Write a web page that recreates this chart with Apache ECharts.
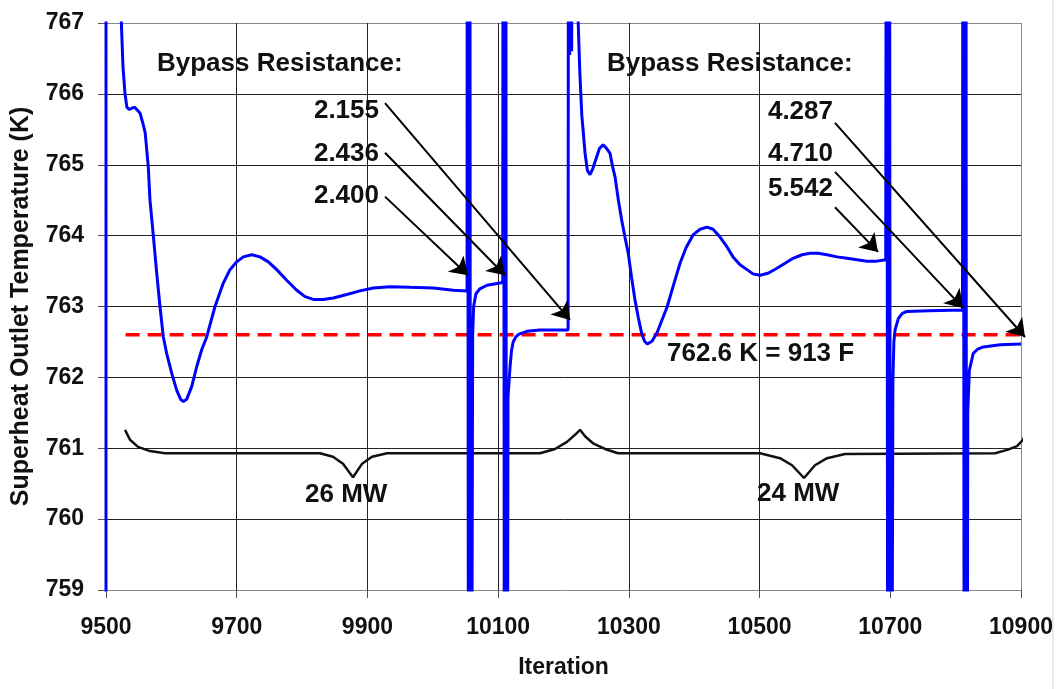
<!DOCTYPE html>
<html>
<head>
<meta charset="utf-8">
<title>Superheat Outlet Temperature</title>
<script src="https://cdn.jsdelivr.net/npm/echarts@6.0.0/dist/echarts.min.js"></script>
<style>
  html, body { margin: 0; padding: 0; background: #fff; }
  #chart { width: 1058px; height: 689px; }
</style>
</head>
<body>
<div id="chart"></div>
<script>
// blue trace, iteration vs temperature (K); values past 759/767 are the spikes that run off the plot
const iteration = [
  9500, 9500, 9522,
  9523.5, 9526, 9529, 9532, 9536, 9540, 9544, 9548, 9552, 9556, 9560, 9564.7, 9567.3, 9572.4,
  9577.4, 9582.6, 9587.7, 9592.8, 9600.5, 9608.1, 9614.2, 9618.3, 9623.4, 9631.1, 9638.8, 9646.4,
  9654.1, 9666.8, 9679.5, 9689.7, 9700, 9710.1, 9722.9, 9735.6, 9748.4, 9761.2, 9776.5, 9791.8,
  9804.5, 9817.2, 9832.5, 9847.8, 9868.3, 9888.6, 9909, 9934.6, 9965.1, 10000.8, 10031.4, 10052.4,
  10053, 10055, 10056.5, 10058,
  10061, 10062.5, 10066, 10072, 10083, 10107,
  10108, 10110, 10111.5, 10113,
  10115.1, 10118.2, 10120.5, 10123, 10127, 10132, 10144, 10164, 10207,
  10208, 10209.5, 10211, 10212.5, 10214, 10221,
  10222.5, 10225, 10228, 10232.9, 10236.5, 10240.6, 10245, 10250.7, 10255, 10260.5, 10265,
  10271.2, 10275, 10278.8, 10284, 10289, 10294, 10299.1, 10304, 10309.4, 10314.5, 10319.6,
  10324, 10328.2, 10335.4, 10343.1, 10350.7, 10358.4, 10367.6, 10378.3, 10387.5, 10398.2,
  10408.9, 10419.6, 10428.8, 10439.5, 10450.2, 10459.4, 10470.1, 10480.8, 10490, 10500.7,
  10513, 10526.7, 10539, 10551.2, 10565, 10577.2, 10589.4, 10603.2, 10618.5, 10633.8,
  10649.1, 10664.4, 10679.7, 10693,
  10694.5, 10696.5, 10698.5, 10700.5,
  10704, 10705.5, 10707.3, 10712.3, 10718, 10725.1, 10760, 10810.5,
  10811.5, 10813.5, 10815.5, 10817,
  10818.5, 10821, 10827, 10834, 10842.4, 10868, 10900
];
const temperature = [
  755, 775, 775,
  767.0, 766.38, 766.01, 765.81, 765.78, 765.80, 765.81, 765.77, 765.73, 765.60, 765.45, 764.97, 764.50, 764.0,
  763.49, 763.0, 762.57, 762.34, 762.06, 761.82, 761.69, 761.66, 761.69, 761.87, 762.15, 762.39,
  762.57, 763.0, 763.33, 763.52, 763.63, 763.70, 763.73, 763.70, 763.63, 763.52, 763.37, 763.23,
  763.14, 763.10, 763.10, 763.12, 763.17, 763.22, 763.26, 763.28, 763.27, 763.26, 763.23, 763.22,
  775, 750, 775, 750,
  762.6, 763.0, 763.18, 763.25, 763.30, 763.34,
  775, 750, 775, 750,
  761.72, 762.15, 762.38, 762.5, 762.57, 762.61, 762.65, 762.67, 762.67,
  775, 766.55, 775, 766.6, 775, 775,
  767.0, 766.3, 765.7, 765.17, 764.92, 764.86, 764.95, 765.11, 765.23, 765.28, 765.24,
  765.16, 764.98, 764.83, 764.5, 764.22, 763.98, 763.75, 763.42, 763.09, 762.84, 762.62,
  762.51, 762.47, 762.51, 762.63, 762.81, 762.99, 763.28, 763.61, 763.83, 764.01,
  764.09, 764.12, 764.09, 763.98, 763.84, 763.70, 763.59, 763.52, 763.46, 763.44,
  763.47, 763.54, 763.61, 763.68, 763.73, 763.75, 763.75, 763.73, 763.70, 763.68,
  763.66, 763.64, 763.64, 763.66,
  775, 750, 775, 750,
  761.96, 762.5, 762.67, 762.83, 762.9, 762.93, 762.94, 762.95,
  775, 750, 775, 750,
  761.5, 762.1, 762.34, 762.4, 762.43, 762.46, 762.47
];

// 762.6 K = 913 F target line
const targetTemp = 762.6;
const targetFrom = 9530;
const targetTo = 10900;

// braces under the two power levels
const braceX = [
  9529.1, 9536.7, 9549.0, 9567.3, 9590.3, 9827.4, 9847.3, 9862.6, 9877.9, 9891.7, 9907.0, 9930.0,
  10164.1, 10187.0, 10205.4, 10217.6, 10225.3, 10232.9, 10245.2, 10263.5, 10283.4,
  10500.7, 10531.3, 10549.7, 10568.0, 10584.8, 10603.2, 10630.7, 10860.3, 10880.2, 10893.9, 10903.1, 10909.2
];
const braceY = [
  761.26, 761.12, 761.02, 760.96, 760.93, 760.93, 760.88, 760.78, 760.59, 760.78, 760.88, 760.93,
  760.93, 760.99, 761.09, 761.19, 761.26, 761.17, 761.07, 760.99, 760.93,
  760.93, 760.86, 760.76, 760.58, 760.76, 760.86, 760.92, 760.93, 760.98, 761.03, 761.12, 761.26
];

// arrows: label corner -> point on the trace
const arrowFrom = [
  [9926.9, 765.87], [9926.9, 765.17], [9926.9, 764.55],
  [10615.4, 765.59], [10615.4, 764.90], [10615.4, 764.40]
];
const arrowTo = [
  [10210, 762.81], [10110.5, 763.44], [10053.9, 763.44],
  [10906.1, 762.57], [10811.3, 762.98], [10681.2, 763.77]
];

const xTicks = [9500, 9700, 9900, 10100, 10300, 10500, 10700, 10900];
const yMin = 759, yMax = 767;

const FONT = '"Liberation Sans", Arial, sans-serif';
const INK = '#111';

const chart = echarts.init(document.getElementById('chart'), null, {renderer: 'canvas'});

const zip = (xs, ys) => xs.map((x, i) => [x, ys[i]]);

const txt = (text, x, y, align) => ({
  type: 'text',
  x: x,
  y: y,
  z: 100,
  style: {
    text: text,
    fill: INK,
    font: 'bold 26px ' + FONT,
    align: align || 'left',
    verticalAlign: 'middle'
  }
});

const option = {
  animation: false,
  backgroundColor: '#fff',
  grid: {left: 106, right: 37, top: 23, bottom: 99},
  xAxis: {
    type: 'value',
    min: 9500,
    max: 10900,
    name: 'Iteration',
    nameLocation: 'middle',
    nameGap: 66,
    nameTextStyle: {color: INK, fontFamily: FONT, fontWeight: 'bold', fontSize: 23},
    axisLine: {show: false},
    axisTick: {show: true, length: 8, customValues: xTicks, lineStyle: {color: '#555'}},
    axisLabel: {
      customValues: xTicks,
      formatter: (v) => String(v),
      margin: 26,
      color: INK,
      fontFamily: FONT,
      fontWeight: 'bold',
      fontSize: 23
    },
    splitLine: {
      show: true,
      lineStyle: {color: ['#888', '#222', '#222', '#222', '#222', '#222', '#222', '#888'], width: 1}
    }
  },
  yAxis: {
    type: 'value',
    min: yMin,
    max: yMax,
    interval: 1,
    name: 'Superheat Outlet Temperature (K)',
    nameLocation: 'middle',
    nameGap: 72,
    nameTextStyle: {color: INK, fontFamily: FONT, fontWeight: 'bold', fontSize: 25},
    axisLine: {show: false},
    axisTick: {show: true, length: 8, lineStyle: {color: '#555'}},
    axisLabel: {
      margin: 22,
      color: INK,
      fontFamily: FONT,
      fontWeight: 'bold',
      fontSize: 23
    },
    splitLine: {
      show: true,
      lineStyle: {color: ['#888', '#222', '#222', '#222', '#222', '#222', '#222', '#222', '#888'], width: 1}
    }
  },
  series: [
    {
      name: 'target',
      type: 'line',
      data: [[targetFrom, targetTemp], [targetTo, targetTemp]],
      showSymbol: false,
      lineStyle: {color: '#ff0000', width: 3.5, type: [14, 8]},
      z: 3
    },
    {
      name: 'brace',
      type: 'line',
      data: zip(braceX, braceY),
      showSymbol: false,
      clip: false,
      lineStyle: {color: '#111', width: 2.5},
      z: 3
    },
    {
      name: 'Superheat outlet',
      type: 'line',
      data: zip(iteration, temperature),
      showSymbol: false,
      lineStyle: {color: '#0000ff', width: 3},
      z: 4
    },
    {
      name: 'arrows',
      type: 'lines',
      coordinateSystem: 'cartesian2d',
      clip: false,
      symbol: ['none', 'arrow'],
      symbolSize: 17,
      lineStyle: {color: '#000', width: 2, opacity: 1},
      data: arrowFrom.map((p, i) => ({coords: [p, arrowTo[i]]})),
      z: 5
    }
  ],
  graphic: [
    {type: 'line', shape: {x1: 1053, y1: 0, x2: 1053, y2: 689}, style: {stroke: '#d4d4d4', lineWidth: 1}},
    txt('Bypass Resistance:', 157, 64),
    txt('Bypass Resistance:', 607, 64),
    txt('2.155', 379, 111, 'right'),
    txt('2.436', 379, 154, 'right'),
    txt('2.400', 379, 196, 'right'),
    txt('4.287', 833, 112, 'right'),
    txt('4.710', 833, 154, 'right'),
    txt('5.542', 833, 189, 'right'),
    txt('762.6 K = 913 F', 667, 354),
    txt('26 MW', 305, 495),
    txt('24 MW', 757, 494)
  ]
};

chart.setOption(option);
</script>
</body>
</html>
